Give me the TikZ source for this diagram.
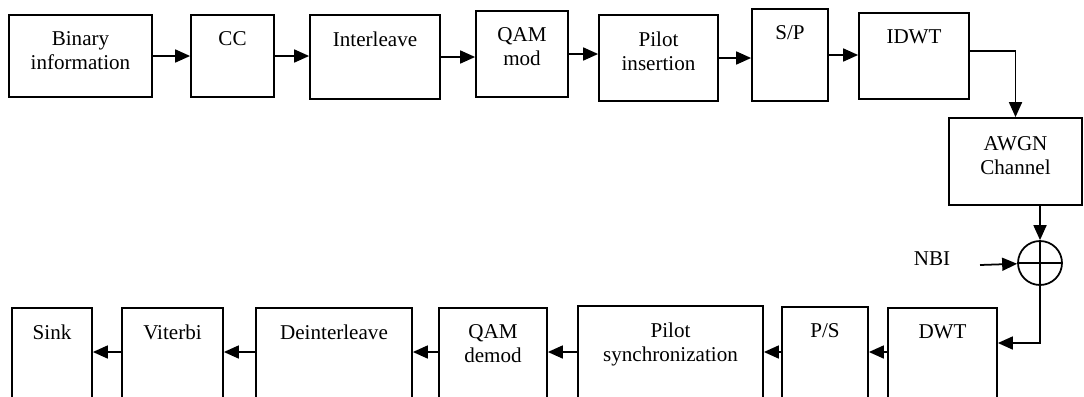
\documentclass[tikz,border=0pt]{standalone}
\usepackage{fontspec}
\setmainfont{Liberation Serif}
\usepackage{tikz}
\usetikzlibrary{arrows.meta, positioning, fit}

\begin{document}
\begin{tikzpicture}[x=0.02cm, y=-0.02cm,
  blk/.style={rectangle, draw=black, line width=1pt, inner sep=0pt},
  lbl/.style={inner sep=0pt, align=center, anchor=north,
              font=\fontsize{12}{13.8}\selectfont},
  arrow/.style={-{Triangle[length=0.3cm, width=0.26cm]}, line width=1pt},
]
  \useasboundingbox (0,0) rectangle (1084,396);
  \clip (0,0) rectangle (1084,396);

  % transmitter
  \node[blk, fit={(9,15) (152,97)}] (bin) {};
  \node[lbl, below=0.34cm of bin.north] (bint) {Binary\\information};
  \node[blk, fit={(191,15) (274,97)}] (cc) {};
  \node[lbl, below=0.34cm of cc.north] (cct) {CC};
  \node[blk, fit={(310,15) (440,99)}] (inter) {};
  \node[lbl, below=0.34cm of inter.north] (intert) {Interleave};
  \node[blk, fit={(476,11) (568,97)}] (qam) {};
  \node[lbl, below=0.34cm of qam.north] (qamt) {QAM\\mod};
  \node[blk, fit={(599,15) (718,101)}] (pins) {};
  \node[lbl, below=0.34cm of pins.north] (pinst) {Pilot\\insertion};
  \node[blk, fit={(752,9) (828,101)}] (sp) {};
  \node[lbl, below=0.34cm of sp.north] (spt) {S/P};
  \node[blk, fit={(859,13) (969,99)}] (idwt) {};
  \node[lbl, below=0.34cm of idwt.north] (idwtt) {IDWT};

  % channel
  \node[blk, fit={(949,118) (1082,205)}] (awgn) {};
  \node[lbl, below=0.38cm of awgn.north] (awgnt) {AWGN\\Channel};
  \node[circle, draw, line width=1pt, minimum size=0.88cm, inner sep=0pt] (sum) at (1040,263) {};
  \draw[line width=1pt] (sum.north) -- (sum.south) (sum.west) -- (sum.east);
  \node[lbl, anchor=center] (nbi) at (932,259) {NBI};
  \coordinate (nbiin) at (980,265);

  % receiver
  \node[blk, fit={(888,308) (997,430)}] (dwt) {};
  \node[lbl, below=0.34cm of dwt.north] (dwtt) {DWT};
  \node[blk, fit={(782,307) (868,430)}] (ps) {};
  \node[lbl, below=0.34cm of ps.north] (pst) {P/S};
  \node[blk, fit={(578,306) (763,430)}] (psync) {};
  \node[lbl, below=0.34cm of psync.north] (psynct) {Pilot\\synchronization};
  \node[blk, fit={(439,308) (547,430)}] (qamd) {};
  \node[lbl, below=0.34cm of qamd.north] (qamdt) {QAM\\demod};
  \node[blk, fit={(256,308) (412,430)}] (deint) {};
  \node[lbl, below=0.34cm of deint.north] (deintt) {Deinterleave};
  \node[blk, fit={(122,308) (223,430)}] (vit) {};
  \node[lbl, below=0.34cm of vit.north] (vitt) {Viterbi};
  \node[blk, fit={(12,308) (92,430)}] (sink) {};
  \node[lbl, below=0.34cm of sink.north] (sinkt) {Sink};
  \coordinate (brow) at (0,352);

  \draw[arrow] (bin.east) -- (bin.east -| cc.west);
  \draw[arrow] (cc.east) -- (cc.east -| inter.west);
  \draw[arrow] (inter.east) -- (inter.east -| qam.west);
  \draw[arrow] (qam.east) -- (qam.east -| pins.west);
  \draw[arrow] (pins.east) -- (pins.east -| sp.west);
  \draw[arrow] (sp.east) -- (sp.east -| idwt.west);
  \draw[arrow] ([yshift=0.1cm]idwt.east) -| (awgn);
  \draw[arrow] (awgn.south -| sum) -- (sum);
  \draw[arrow] (nbiin) -- (sum);
  \draw[arrow] (sum) |- (dwt.east |- 0,343);
  \draw[arrow] (dwt.west |- brow) -- (ps.east |- brow);
  \draw[arrow] (ps.west |- brow) -- (psync.east |- brow);
  \draw[arrow] (psync.west |- brow) -- (qamd.east |- brow);
  \draw[arrow] (qamd.west |- brow) -- (deint.east |- brow);
  \draw[arrow] (deint.west |- brow) -- (vit.east |- brow);
  \draw[arrow] (vit.west |- brow) -- (sink.east |- brow);
\end{tikzpicture}
\end{document}
